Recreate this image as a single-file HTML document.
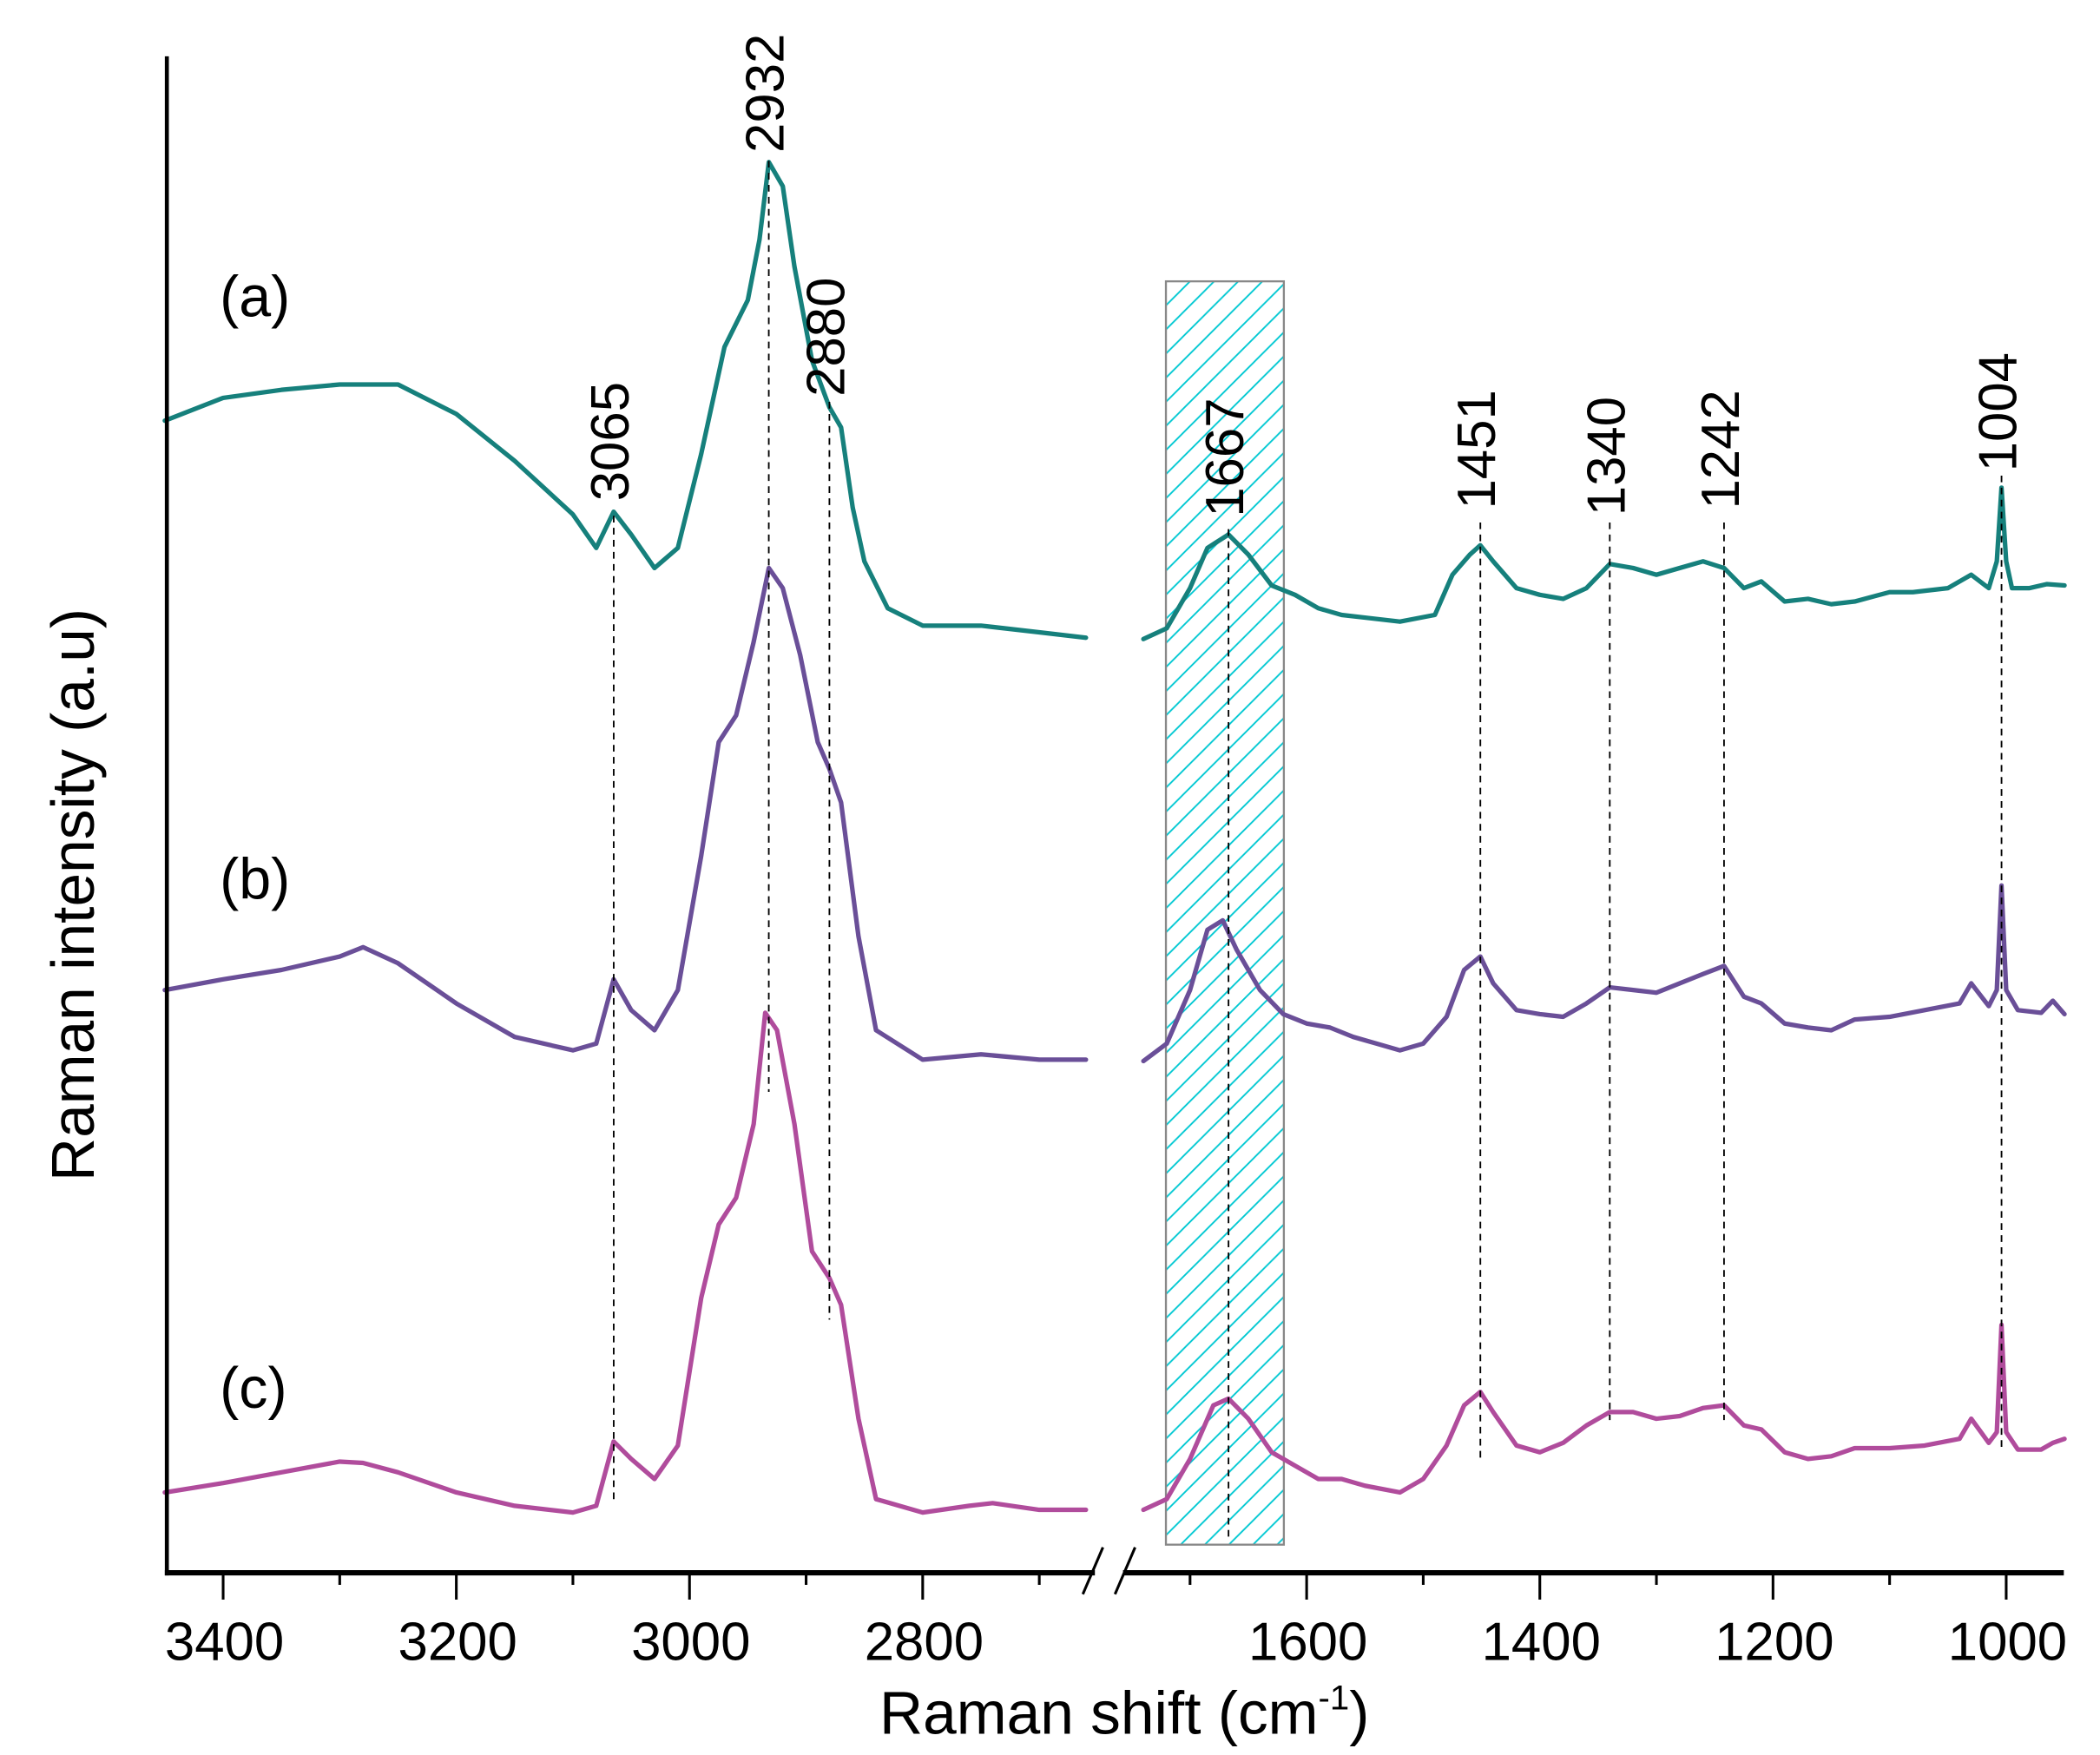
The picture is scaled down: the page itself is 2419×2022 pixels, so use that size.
<!DOCTYPE html>
<html><head><meta charset="utf-8"><style>
html,body{margin:0;padding:0;background:#fff}
svg{display:block}
text{font-family:"Liberation Sans",Arial,sans-serif;fill:#000}
</style></head><body>
<svg id="chart" width="2419" height="2022" viewBox="0 0 1567 1310" preserveAspectRatio="none" xmlns="http://www.w3.org/2000/svg">
<defs>
<pattern id="hatch" patternUnits="userSpaceOnUse" width="18" height="18">
<path d="M-2,20 L20,-2 M-2,2 L2,-2 M16,20 L20,16" stroke="#00c8d2" stroke-width="1.2"/>
</pattern>
</defs>
<g id="plot"></g>
</svg>
<script>
const leftWn=[3450,3400,3350,3300,3250,3200,3150,3100,3080,3065,3050,3030,3010,2990,2970,2950,2940,2932,2920,2910,2895,2880,2870,2860,2850,2830,2800,2750,2700,2660];
const aLeft=[860,877,883,887,887,865,830,790,765,792,775,750,765,835,915,950,995,1053,1035,975,905,870,855,795,755,720,707,707,702,698];
const rightWnA=[1740,1720,1700,1685,1667,1650,1630,1610,1590,1570,1550,1520,1490,1475,1460,1451,1440,1420,1400,1380,1360,1340,1320,1300,1280,1260,1242,1225,1210,1190,1170,1150,1130,1100,1080,1050,1030,1015,1008,1004,1000,995,980,965,950];
const aRight=[697,705,735,765,775,760,737,730,720,715,713,710,715,745,760,767,755,735,730,727,735,753,750,745,750,755,750,735,740,725,727,723,725,732,732,735,745,735,755,810,755,735,735,738,737];
const leftWnB=[3450,3400,3350,3300,3280,3250,3200,3150,3100,3080,3065,3050,3030,3010,2990,2975,2960,2945,2932,2920,2905,2890,2880,2870,2855,2840,2800,2750,2700,2660];
const bLeft=[435,443,450,460,467,455,425,400,390,395,443,420,405,435,535,620,640,695,750,735,685,620,600,575,475,405,383,387,383,383];
const rightWnB=[1740,1720,1700,1685,1672,1660,1640,1620,1600,1580,1560,1540,1520,1500,1480,1465,1451,1440,1420,1400,1380,1360,1340,1320,1300,1280,1260,1242,1225,1210,1190,1170,1150,1130,1100,1070,1040,1030,1015,1008,1004,1000,990,970,960,950];
const bRight=[382,395,435,480,487,465,435,417,410,407,400,395,390,395,415,450,460,440,420,417,415,425,437,435,433,440,447,453,430,425,410,407,405,413,415,420,425,440,423,435,513,435,420,418,427,417];
const leftWnC=[3450,3400,3350,3300,3280,3250,3200,3150,3100,3080,3065,3050,3030,3010,2990,2975,2960,2945,2935,2925,2910,2895,2880,2870,2855,2840,2800,2760,2740,2700,2660];
const cLeft=[60,67,75,83,82,75,60,50,45,50,98,85,70,95,205,260,280,335,418,405,335,240,220,200,115,55,45,50,52,47,47];
const rightWnC=[1740,1720,1700,1680,1667,1650,1630,1610,1590,1570,1550,1520,1500,1480,1465,1451,1440,1420,1400,1380,1360,1340,1320,1300,1280,1260,1242,1225,1210,1190,1170,1150,1130,1100,1070,1040,1030,1015,1008,1004,1000,990,970,960,950];
const cRight=[47,55,85,125,130,115,90,80,70,70,65,60,70,95,125,135,120,95,90,97,110,120,120,115,117,123,125,110,107,90,85,87,93,93,95,100,115,97,105,185,105,92,92,97,100];
const majorLeft=[3400,3200,3000,2800];
const minorLeft=[3300,3100,2900,2700];
const majorRight=[1600,1400,1200,1000];
const minorRight=[1700,1500,1300,1100];
const peakLabels=["3065","2932","2880","1667","1451","1340","1242","1004"];
const peakWn=[3065,2932,2880,1667,1451,1340,1242,1004];
const peakTop=[385,120,300,395,390,390,390,355];
const peakBottom=[1120,815,985,1150,1090,1060,1060,1080];
const peakTextBottom=[374,114,296,386,380,385,380,352];

const PX=0.87, Y0=1174;
function x(v){return v>2000?166.5+(3400-v)*PX:975+(1600-v)*PX;}
function y(v){return Y0-v;}
const NS="http://www.w3.org/2000/svg";
const g=document.getElementById('plot');
function el(tag,attrs,parent){const e=document.createElementNS(NS,tag);for(const k in attrs)e.setAttribute(k,attrs[k]);(parent||g).appendChild(e);return e;}

const box=el('rect',{x:870,y:210,width:88,height:943,fill:'url(#hatch)',stroke:'#888',"stroke-width":1.5});



function series(wn,vals,color,name){
  const d=wn.map((w,i)=>(i?'L':'M')+x(w).toFixed(1)+','+y(vals[i]).toFixed(1)).join(' ');
  const p=el('path',{d:d,fill:'none',stroke:color,"stroke-width":3.4,"stroke-linejoin":"round","stroke-linecap":"round"});
  
  
}
series(leftWn,aLeft,'#16807c','spectrum-a-high');
series(rightWnA,aRight,'#16807c','spectrum-a-fingerprint');
series(leftWnB,bLeft,'#6a4f98','spectrum-b-high');
series(rightWnB,bRight,'#6a4f98','spectrum-b-fingerprint');
series(leftWnC,cLeft,'#b04c9c','spectrum-c-high');
series(rightWnC,cRight,'#b04c9c','spectrum-c-fingerprint');

peakWn.forEach((w,i)=>{
  const px=x(w);
  const l=el('line',{x1:px,x2:px,y1:peakTop[i],y2:peakBottom[i],stroke:'#000',"stroke-width":1.2,"stroke-dasharray":"5,4"});
  
  
  const t=el('text',{x:0,y:0,transform:`translate(${px+11},${peakTextBottom[i]}) rotate(-90)`,"font-size":40});
  t.textContent=peakLabels[i];
  
  
});

const ya=el('line',{x1:124.5,x2:124.5,y1:42,y2:1176,stroke:'#000',"stroke-width":3});


const xa1=el('line',{x1:123,x2:817,y1:1174,y2:1174,stroke:'#000',"stroke-width":4});


const xa2=el('line',{x1:838,x2:1540,y1:1174,y2:1174,stroke:'#000',"stroke-width":4});


const brk=el('path',{d:'M808,1190 L823,1155 M832,1190 L847,1155',stroke:'#000',"stroke-width":2,fill:'none'});



function tick(v,major){
  const t=el('line',{x1:x(v),x2:x(v),y1:1174,y2:major?1194:1183,stroke:'#000',"stroke-width":2});
  
  
  if(major){
    const tx=el('text',{x:x(v)+1,y:1239,"text-anchor":"middle","font-size":40});
    tx.textContent=v;
    
    
  }
}
majorLeft.forEach(v=>tick(v,true));minorLeft.forEach(v=>tick(v,false));
majorRight.forEach(v=>tick(v,true));minorRight.forEach(v=>tick(v,false));

const xt=el('text',{x:839,y:1294,"text-anchor":"middle","font-size":45});
xt.innerHTML='Raman shift (cm<tspan dy="-18" font-size="26">-1</tspan><tspan dy="18">)</tspan>';


const yt=el('text',{x:0,y:0,transform:'translate(70,668) rotate(-90)',"text-anchor":"middle","font-size":45});
yt.textContent='Raman intensity (a.u)';



[['(a)',236],['(b)',671],['(c)',1051]].forEach(([s,yy],i)=>{
  const t=el('text',{x:164,y:yy,"font-size":43});
  t.textContent=s;
  
  
});
</script>
</body></html>
